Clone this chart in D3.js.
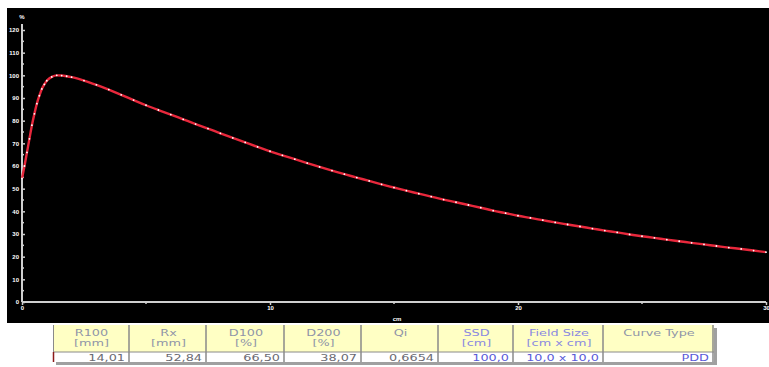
<!DOCTYPE html>
<html>
<head>
<meta charset="utf-8">
<script src="https://cdn.jsdelivr.net/npm/d3@7"></script>
<style>
  body { margin: 0; background: #fff; }
  svg { display: block; }
</style>
</head>
<body>
<div id="chart"></div>
<script>
// depth dose curve (depth in cm, dose in %)
const depth = [0, 0.1, 0.2, 0.3, 0.4, 0.5, 0.6, 0.7, 0.8, 0.9, 1.0, 1.2, 1.4, 1.6, 1.8, 2.0,
  2.5, 3.0, 3.5, 4.0, 4.5, 5.0, 5.5, 6.0, 6.5, 7.0, 7.5, 8.0, 8.5, 9.0, 9.5, 10.0,
  10.5, 11.0, 11.5, 12.0, 12.5, 13.0, 13.5, 14.0, 14.5, 15.0, 15.5, 16.0, 16.5, 17.0, 17.5,
  18.0, 18.5, 19.0, 19.5, 20.0, 20.5, 21.0, 21.5, 22.0, 22.5, 23.0, 23.5, 24.0, 24.5, 25.0,
  25.5, 26.0, 26.5, 27.0, 27.5, 28.0, 28.5, 29.0, 29.5, 30.0];
const dose = [54.5, 60, 66, 72, 78, 83, 87.5, 91, 94, 96, 97.6, 99.3, 100, 99.9, 99.6, 99.2,
  97.7, 95.8, 93.7, 91.4, 89.1, 86.8, 84.7, 82.7, 80.6, 78.5, 76.5, 74.4, 72.4, 70.4, 68.4, 66.5,
  64.7, 63.0, 61.3, 59.6, 58.0, 56.4, 54.9, 53.4, 51.9, 50.5, 49.1, 47.8, 46.5, 45.2, 44.0,
  42.8, 41.6, 40.3, 39.2, 38.07, 37.1, 36.1, 35.1, 34.2, 33.3, 32.4, 31.5, 30.7, 29.8, 29.0,
  28.3, 27.5, 26.8, 26.1, 25.4, 24.7, 24.0, 23.4, 22.7, 22.0];

const xTicks = [0, 10, 20, 30];
const xMinor = [5, 15, 25];
const yTicks = [0, 10, 20, 30, 40, 50, 60, 70, 80, 90, 100, 110, 120];
const yMinor = [5, 15, 25, 35, 45, 55, 65, 75, 85, 95, 105, 115];

const headers = [["R100", "[mm]"], ["Rx", "[mm]"], ["D100", "[%]"], ["D200", "[%]"],
  ["Qi", ""], ["SSD", "[cm]"], ["Field Size", "[cm x cm]"], ["Curve Type", ""]];
const values = ["14,01", "52,84", "66,50", "38,07", "0,6654", "100,0", "10,0 x 10,0", "PDD"];
const blueCols = [false, false, false, false, false, true, true, true];

const W = 769, H = 367;
const svg = d3.select('#chart').append('svg')
  .attr('width', W).attr('height', H)
  .style('font-family', '"Liberation Sans", Arial, sans-serif');

// black plot panel
svg.append('rect').attr('x', 7).attr('y', 8).attr('width', W - 7).attr('height', 315)
  .attr('fill', '#000');

const x = d3.scaleLinear().domain([0, 30]).range([22, 766]);
const y = d3.scaleLinear().domain([0, 120]).range([302, 30]);

// axes
const axisColor = '#cfcfcf';
const xAxis = svg.append('g').attr('transform', 'translate(0,302)')
  .call(d3.axisBottom(x).tickValues(xTicks).tickSize(3).tickFormat(d3.format('d')));
const yAxis = svg.append('g').attr('transform', 'translate(22,0)')
  .call(d3.axisLeft(y).tickValues(yTicks).tickSize(-3).tickFormat(d3.format('d')));

[xAxis, yAxis].forEach(g => {
  g.select('.domain').attr('stroke', axisColor).attr('stroke-width', 2);
  g.selectAll('.tick line').attr('stroke', axisColor).attr('stroke-width', 1.5);
  g.selectAll('.tick text').attr('fill', '#fff').attr('font-size', 6)
    .attr('font-weight', 'bold');
});
xAxis.select('.domain').attr('d', `M${x(0)},0H${x(30)}`);
yAxis.select('.domain').attr('d', `M0,${y(0)}V${y(120) - 6}`);
xAxis.selectAll('.tick text').attr('dy', '0.4em');
yAxis.selectAll('.tick text').attr('x', -3);

// minor ticks
svg.append('g').selectAll('line').data(xMinor).join('line')
  .attr('x1', d => x(d)).attr('x2', d => x(d)).attr('y1', 301).attr('y2', 304)
  .attr('stroke', axisColor).attr('stroke-width', 1.5);
svg.append('g').selectAll('line').data(yMinor).join('line')
  .attr('x1', 21).attr('x2', 24).attr('y1', d => y(d)).attr('y2', d => y(d))
  .attr('stroke', axisColor).attr('stroke-width', 1.5);

// axis units
svg.append('text').attr('x', 22).attr('y', 19).attr('text-anchor', 'middle')
  .attr('fill', '#fff').attr('font-size', 6).attr('font-weight', 'bold').text('%');
svg.append('text').attr('x', 397).attr('y', 321).attr('text-anchor', 'middle')
  .attr('fill', '#fff').attr('font-size', 6).attr('font-weight', 'bold').text('cm');

// curve
const pts = depth.map((d, i) => [d, dose[i]]);
svg.append('path').datum(pts)
  .attr('d', d3.line().x(d => x(d[0])).y(d => y(d[1])).curve(d3.curveMonotoneX))
  .attr('fill', 'none').attr('stroke', '#e8283c').attr('stroke-width', 2.4);
svg.append('g').selectAll('circle').data(pts).join('circle')
  .attr('cx', d => x(d[0])).attr('cy', d => y(d[1])).attr('r', 0.9)
  .attr('fill', '#fff');

// parameter table
const colW = [77, 77, 78, 77, 77, 75, 90, 110];
const colX = d3.cumsum([53, ...colW]);
const tY = 325, hH = 27, rH = 10;

const tbl = svg.append('g').style('font-family', '"DejaVu Sans", Verdana, sans-serif');
// shadow
tbl.append('rect').attr('x', 56).attr('y', tY + 3).attr('width', colX[8] - 53)
  .attr('height', hH + rH).attr('fill', '#a0a0a0');
tbl.append('rect').attr('x', 53).attr('y', tY).attr('width', colX[8] - 53)
  .attr('height', hH).attr('fill', '#ffffc4');
tbl.append('rect').attr('x', 53).attr('y', tY + hH).attr('width', colX[8] - 53)
  .attr('height', rH).attr('fill', '#fff');

const cols = tbl.selectAll('g.col').data(headers).join('g').attr('class', 'col');
cols.append('line')
  .attr('x1', (d, i) => colX[i + 1] - 1).attr('x2', (d, i) => colX[i + 1] - 1)
  .attr('y1', tY).attr('y2', tY + hH + rH)
  .attr('stroke', '#8a8a8a').attr('stroke-width', 1.5);
cols.append('text')
  .attr('x', (d, i) => (colX[i] + colX[i + 1]) / 2).attr('y', tY + 11)
  .attr('text-anchor', 'middle').attr('font-size', 9.5)
  .attr('fill', (d, i) => blueCols[i] && i < 7 ? '#8a8ae0' : '#8f95a8')
  .text(d => d[0]);
cols.append('text')
  .attr('x', (d, i) => (colX[i] + colX[i + 1]) / 2).attr('y', tY + 21)
  .attr('text-anchor', 'middle').attr('font-size', 9.5)
  .attr('fill', (d, i) => blueCols[i] ? '#8a8ae0' : '#8f95a8')
  .text(d => d[1]);
cols.append('text')
  .attr('x', (d, i) => colX[i + 1] - 5).attr('y', tY + hH + 8.5)
  .attr('text-anchor', 'end').attr('font-size', 9.5)
  .attr('fill', (d, i) => blueCols[i] ? '#5a5ad8' : '#6a6a72')
  .text((d, i) => values[i]);

// the table text in the picture is drawn wide
tbl.selectAll('text').each(function () {
  const len = this.getComputedTextLength();
  if (len > 0) {
    d3.select(this).attr('textLength', len * 1.35).attr('lengthAdjust', 'spacingAndGlyphs');
  }
});

tbl.append('line').attr('x1', 53).attr('x2', colX[8]).attr('y1', tY + hH).attr('y2', tY + hH)
  .attr('stroke', '#8a8a8a').attr('stroke-width', 1);
tbl.append('line').attr('x1', 53.5).attr('x2', 53.5).attr('y1', tY).attr('y2', tY + hH)
  .attr('stroke', '#8a8a8a').attr('stroke-width', 1);
tbl.append('line').attr('x1', 53.5).attr('x2', 53.5).attr('y1', tY + hH).attr('y2', tY + hH + rH)
  .attr('stroke', '#8b1a1a').attr('stroke-width', 1.5);
</script>
</body>
</html>
